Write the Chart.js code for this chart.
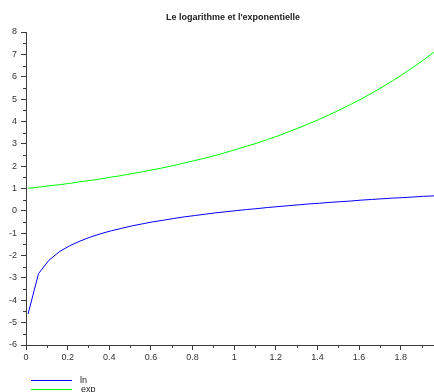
<!DOCTYPE html>
<html>
<head>
<meta charset="utf-8">
<script src="https://cdn.jsdelivr.net/npm/chart.js@4"></script>
<style>
html,body{margin:0;padding:0;background:#fff;}
#wrap{width:434px;height:392px;position:relative;}
</style>
</head>
<body>
<div id="wrap"><canvas id="c" width="434" height="392"></canvas></div>
<script>
const title = "Le logarithme et l'exponentielle";
const seriesNames = ["ln", "exp"];
const xValues = [0.01, 0.06, 0.11, 0.16, 0.21, 0.26, 0.31, 0.36, 0.41, 0.46,
  0.51, 0.56, 0.61, 0.66, 0.71, 0.76, 0.81, 0.86, 0.91, 0.96,
  1.01, 1.06, 1.11, 1.16, 1.21, 1.26, 1.31, 1.36, 1.41, 1.46,
  1.51, 1.56, 1.61, 1.66, 1.71, 1.76, 1.81, 1.86, 1.91, 1.96];
const lnValues = [-4.61, -2.81, -2.21, -1.83, -1.56, -1.35, -1.17, -1.02, -0.89, -0.78,
  -0.67, -0.58, -0.49, -0.42, -0.34, -0.27, -0.21, -0.15, -0.09, -0.04,
  0.01, 0.06, 0.10, 0.15, 0.19, 0.23, 0.27, 0.31, 0.34, 0.38,
  0.41, 0.44, 0.48, 0.51, 0.54, 0.57, 0.59, 0.62, 0.65, 0.67];
const expValues = [1.01, 1.06, 1.12, 1.17, 1.23, 1.30, 1.36, 1.43, 1.51, 1.58,
  1.67, 1.75, 1.84, 1.93, 2.03, 2.14, 2.25, 2.36, 2.48, 2.61,
  2.75, 2.89, 3.03, 3.19, 3.35, 3.53, 3.71, 3.90, 4.10, 4.31,
  4.53, 4.76, 5.00, 5.26, 5.53, 5.81, 6.11, 6.42, 6.75, 7.10];
const xTickValues = [0, 0.2, 0.4, 0.6, 0.8, 1, 1.2, 1.4, 1.6, 1.8];
const yTickValues = [-6, -5, -4, -3, -2, -1, 0, 1, 2, 3, 4, 5, 6, 7, 8];
const xMinorTicks = [0.1, 0.3, 0.5, 0.7, 0.9, 1.1, 1.3, 1.5, 1.7, 1.9];
const yMinorTicks = [-5.5, -4.5, -3.5, -2.5, -1.5, -0.5, 0.5, 1.5, 2.5, 3.5, 4.5, 5.5, 6.5, 7.5];

const FONT = "'Liberation Sans', Arial, sans-serif";
const AXIS_COLOR = '#3c3c3c';

const extras = {
  id: 'extras',
  afterDraw(chart) {
    const ctx = chart.ctx;
    const xs = chart.scales.x, ys = chart.scales.y;
    const area = chart.chartArea;
    ctx.save();
    ctx.strokeStyle = AXIS_COLOR;
    ctx.lineWidth = 1;
    ctx.beginPath();
    xMinorTicks.forEach(v => {
      const px = Math.round(xs.getPixelForValue(v)) + 0.5;
      ctx.moveTo(px, area.bottom);
      ctx.lineTo(px, area.bottom + 3);
    });
    yMinorTicks.forEach(v => {
      const py = Math.round(ys.getPixelForValue(v)) + 0.5;
      ctx.moveTo(area.left, py);
      ctx.lineTo(area.left - 3, py);
    });
    ctx.stroke();
    // title
    ctx.fillStyle = '#222';
    ctx.font = 'bold 9px ' + FONT;
    ctx.textAlign = 'center';
    ctx.textBaseline = 'middle';
    ctx.fillText(title, 233, 18);
    // legend
    ctx.font = '9px ' + FONT;
    ctx.textAlign = 'left';
    const legendY = [380.5, 389.5];
    chart.data.datasets.forEach((ds, i) => {
      ctx.strokeStyle = ds.borderColor;
      ctx.beginPath();
      ctx.moveTo(31, legendY[i]);
      ctx.lineTo(72, legendY[i]);
      ctx.stroke();
      ctx.fillStyle = '#222';
      ctx.fillText(ds.label, 80 + (i === 1 ? 1 : 0), legendY[i]);
    });
    ctx.restore();
  }
};

new Chart(document.getElementById('c'), {
  type: 'scatter',
  data: {
    datasets: [
      {
        label: seriesNames[0],
        data: xValues.map((x, i) => ({x: x, y: lnValues[i]})),
        borderColor: '#0000ff',
        backgroundColor: '#0000ff',
        borderWidth: 1,
        showLine: true,
        pointRadius: 0,
        tension: 0
      },
      {
        label: seriesNames[1],
        data: xValues.map((x, i) => ({x: x, y: expValues[i]})),
        borderColor: '#00ff00',
        backgroundColor: '#00ff00',
        borderWidth: 1,
        showLine: true,
        pointRadius: 0,
        tension: 0
      }
    ]
  },
  options: {
    responsive: false,
    animation: false,
    layout: { padding: { left: 0, right: 0, top: 32, bottom: 0 } },
    plugins: {
      legend: { display: false },
      title: { display: false },
      tooltip: { enabled: false }
    },
    scales: {
      x: {
        type: 'linear',
        min: 0,
        max: 1.96,
        afterFit(scale) { scale.height = 47; },
        afterBuildTicks(scale) { scale.ticks = xTickValues.map(v => ({value: v})); },
        grid: { drawOnChartArea: false, drawTicks: true, tickLength: 5, color: AXIS_COLOR, tickColor: AXIS_COLOR },
        border: { display: true, color: AXIS_COLOR, width: 1 },
        ticks: {
          includeBounds: false,
          autoSkip: false,
          maxRotation: 0,
          padding: 2,
          color: '#333',
          font: { family: FONT, size: 9 },
          callback: (v) => String(v)
        }
      },
      y: {
        type: 'linear',
        min: -6,
        max: 8,
        afterFit(scale) { scale.width = 26; },
        afterBuildTicks(scale) { scale.ticks = yTickValues.map(v => ({value: v})); },
        grid: { drawOnChartArea: false, drawTicks: true, tickLength: 5, color: AXIS_COLOR, tickColor: AXIS_COLOR },
        border: { display: true, color: AXIS_COLOR, width: 1 },
        ticks: {
          autoSkip: false,
          padding: 4,
          color: '#333',
          font: { family: FONT, size: 9 },
          callback: (v) => String(v)
        }
      }
    }
  },
  plugins: [extras]
});
</script>
</body>
</html>
